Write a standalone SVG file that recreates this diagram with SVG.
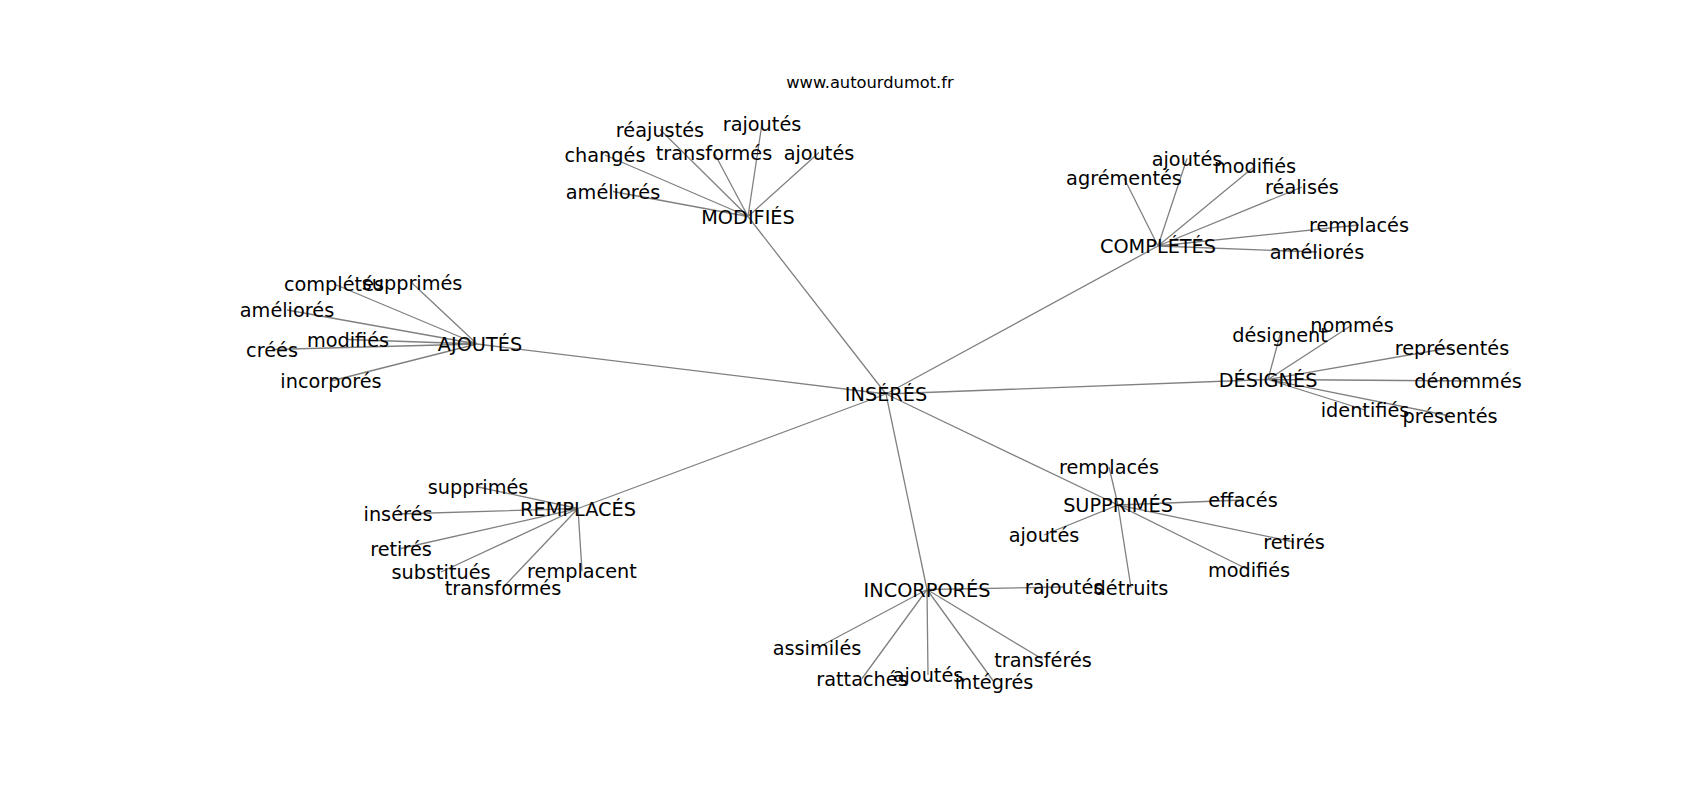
<svg xmlns="http://www.w3.org/2000/svg" width="1700" height="800" viewBox="0 0 1700 800">
<style>
.e{stroke:#808080;stroke-width:1.3;fill:none}
text{font-family:"DejaVu Sans",sans-serif;font-size:19.3px;fill:#000;text-anchor:middle}
.t{font-size:16.3px}
</style>
<rect width="1700" height="800" fill="#fff"/>
<text class="t" x="870" y="88">www.autourdumot.fr</text>
<g id="edges">
<path class="e" d="M886 394L748 216.5M886 394L1158 246M886 394L477 344M886 394L1268 379.5M886 394L578 508.5M886 394L1118 505M886 394L927 589.5"/>
<path class="e" d="M748 216.5L660 129.5M748 216.5L762 123.5M748 216.5L605 155M748 216.5L714 152.5M748 216.5L819 152.5M748 216.5L613 191.5"/>
<path class="e" d="M1158 246L1124 178M1158 246L1187 158.5M1158 246L1255 166M1158 246L1302 187M1158 246L1359 225M1158 246L1317 252"/>
<path class="e" d="M477 344L334 284M477 344L412 283M477 344L287 310M477 344L348 339.5M477 344L272 349.5M477 344L331 381"/>
<path class="e" d="M1268 379.5L1280 335M1268 379.5L1352 325M1268 379.5L1452 347.5M1268 379.5L1468 381M1268 379.5L1365 410M1268 379.5L1450 416"/>
<path class="e" d="M578 508.5L478 487M578 508.5L398 514M578 508.5L401 548.5M578 508.5L441 572M578 508.5L582 571M578 508.5L503 587.5"/>
<path class="e" d="M1118 505L1109 467M1118 505L1243 500M1118 505L1044 535M1118 505L1294 542M1118 505L1249 570M1118 505L1131 587.5"/>
<path class="e" d="M927 589.5L1064 587M927 589.5L817 648M927 589.5L862 678.5M927 589.5L928 675M927 589.5L994 682M927 589.5L1043 659.5"/>
</g>
<g id="n-inseres"><text x="886" y="401">INSÉRÉS</text></g>
<g id="n-modifies"><text x="748" y="223.5">MODIFIÉS</text>
<text x="660" y="136.5">réajustés</text><text x="762" y="130.5">rajoutés</text><text x="605" y="162">changés</text><text x="714" y="159.5">transformés</text><text x="819" y="159.5">ajoutés</text><text x="613" y="198.5">améliorés</text></g>
<g id="n-completes"><text x="1158" y="253">COMPLÉTÉS</text>
<text x="1124" y="185">agrémentés</text><text x="1187" y="165.5">ajoutés</text><text x="1255" y="173">modifiés</text><text x="1302" y="194">réalisés</text><text x="1359" y="232">remplacés</text><text x="1317" y="259">améliorés</text></g>
<g id="n-ajoutes"><text x="480" y="351">AJOUTÉS</text>
<text x="334" y="291">complétés</text><text x="412" y="290">supprimés</text><text x="287" y="317">améliorés</text><text x="348" y="346.5">modifiés</text><text x="272" y="356.5">créés</text><text x="331" y="388">incorporés</text></g>
<g id="n-designes"><text x="1268" y="386.5">DÉSIGNÉS</text>
<text x="1280" y="342">désignent</text><text x="1352" y="332">nommés</text><text x="1452" y="354.5">représentés</text><text x="1468" y="388">dénommés</text><text x="1365" y="417">identifiés</text><text x="1450" y="423">présentés</text></g>
<g id="n-remplaces"><text x="578" y="515.5">REMPLACÉS</text>
<text x="478" y="494">supprimés</text><text x="398" y="521">insérés</text><text x="401" y="555.5">retirés</text><text x="441" y="579">substitués</text><text x="582" y="578">remplacent</text><text x="503" y="594.5">transformés</text></g>
<g id="n-supprimes"><text x="1118" y="512">SUPPRIMÉS</text>
<text x="1109" y="474">remplacés</text><text x="1243" y="507">effacés</text><text x="1044" y="542">ajoutés</text><text x="1294" y="549">retirés</text><text x="1249" y="577">modifiés</text><text x="1131" y="594.5">détruits</text></g>
<g id="n-incorpores"><text x="927" y="596.5">INCORPORÉS</text>
<text x="1064" y="594">rajoutés</text><text x="817" y="655">assimilés</text><text x="862" y="685.5">rattachés</text><text x="928" y="682">ajoutés</text><text x="994" y="689">intégrés</text><text x="1043" y="666.5">transférés</text></g>
</svg>
